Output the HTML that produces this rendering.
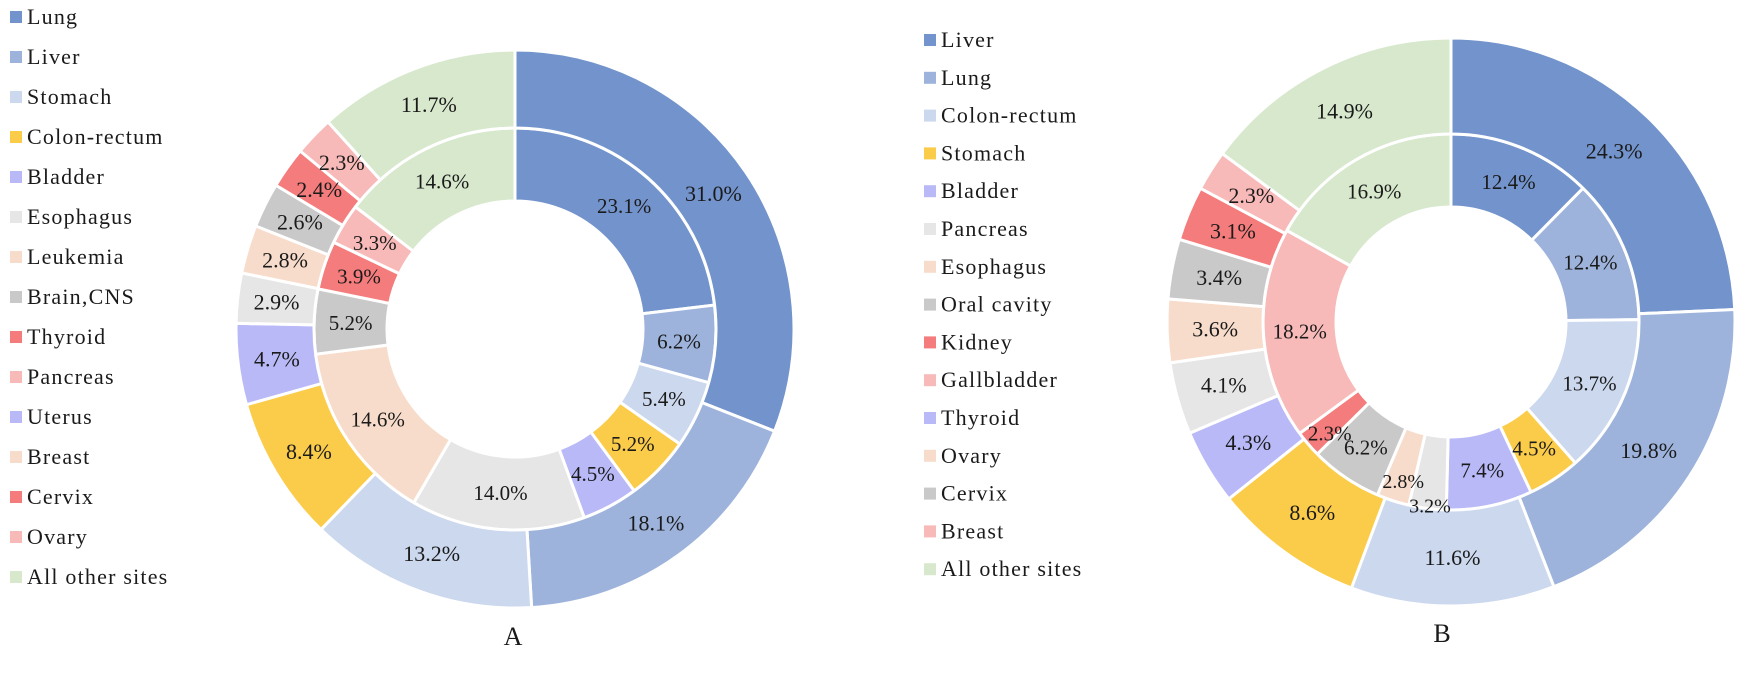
<!DOCTYPE html>
<html><head><meta charset="utf-8"><style>
body{margin:0;background:#fff;width:1737px;height:675px;overflow:hidden}
svg{display:block}
text{font-family:"Liberation Serif",serif;fill:#1a1a1a}
</style></head><body>
<svg id="chart" width="1737" height="675"></svg>
<script>
const namesA=["Lung","Liver","Stomach","Colon-rectum","Bladder","Esophagus","Leukemia","Brain,CNS","Thyroid","Pancreas","Uterus","Breast","Cervix","Ovary","All other sites"];
const legendColorsA=["#7293cb","#9db3dc","#cbd8ee","#fbcb4a","#b9b9f8","#e6e6e6","#f8dccb","#c9c9c9","#f47c7c","#f8b9b9","#b9b9f8","#f8dccb","#f47c7c","#f8b9b9","#d7e8cd"];
const outerA=[31.0,18.1,13.2,8.4,4.7,2.9,2.8,2.6,2.4,2.3,11.7];
const outerColorsA=["#7293cb","#9db3dc","#cbd8ee","#fbcb4a","#b9b9f8","#e6e6e6","#f8dccb","#c9c9c9","#f47c7c","#f8b9b9","#d7e8cd"];
const innerA=[23.1,6.2,5.4,5.2,4.5,14.0,14.6,5.2,3.9,3.3,14.6];
const innerColorsA=["#7293cb","#9db3dc","#cbd8ee","#fbcb4a","#b9b9f8","#e6e6e6","#f8dccb","#c9c9c9","#f47c7c","#f8b9b9","#d7e8cd"];
const namesB=["Liver","Lung","Colon-rectum","Stomach","Bladder","Pancreas","Esophagus","Oral cavity","Kidney","Gallbladder","Thyroid","Ovary","Cervix","Breast","All other sites"];
const legendColorsB=["#7293cb","#9db3dc","#cbd8ee","#fbcb4a","#b9b9f8","#e6e6e6","#f8dccb","#c9c9c9","#f47c7c","#f8b9b9","#b9b9f8","#f8dccb","#c9c9c9","#f8b9b9","#d7e8cd"];
const outerB=[24.3,19.8,11.6,8.6,4.3,4.1,3.6,3.4,3.1,2.3,14.9];
const outerColorsB=["#7293cb","#9db3dc","#cbd8ee","#fbcb4a","#b9b9f8","#e6e6e6","#f8dccb","#c9c9c9","#f47c7c","#f8b9b9","#d7e8cd"];
const innerB=[12.4,12.4,13.7,4.5,7.4,3.2,2.8,6.2,2.3,18.2,16.9];
const innerColorsB=["#7293cb","#9db3dc","#cbd8ee","#fbcb4a","#b9b9f8","#e6e6e6","#f8dccb","#c9c9c9","#f47c7c","#f8b9b9","#d7e8cd"];

const NS="http://www.w3.org/2000/svg";
const svg=document.getElementById('chart');
function mk(t,a,p){const e=document.createElementNS(NS,t);for(const k in a)e.setAttribute(k,a[k]);(p||svg).appendChild(e);return e;}
function pt(cx,cy,r,a){return [cx+r*Math.sin(a),cy-r*Math.cos(a)];}
const pending=[];
function ring(cx,cy,r0,r1,vals,cols,name,fs,nudge){
  const g=mk('g',{});
  
  
  const tot=vals.reduce((s,v)=>s+v,0);let a=0;
  vals.forEach((v,i)=>{
    const a0=a,a1=a+v/tot*2*Math.PI;a=a1;
    const L=(a1-a0)>Math.PI?1:0;
    const p1=pt(cx,cy,r1,a0),p2=pt(cx,cy,r1,a1),p3=pt(cx,cy,r0,a1),p4=pt(cx,cy,r0,a0);
    const d=`M${p1}A${r1},${r1} 0 ${L} 1 ${p2}L${p3}A${r0},${r0} 0 ${L} 0 ${p4}Z`;
    const s=mk('path',{d:d,fill:cols[i],stroke:'#fff','stroke-width':3},g);
    
    
    const m=pt(cx,cy,(r0+r1)/2,(a0+a1)/2);
    const n=(nudge&&nudge[i])||[0,0,fs];
    pending.push({x:m[0]+n[0],y:m[1]+7+n[1],fs:n[2],txt:v.toFixed(1)+'%',name:name+'-label'});
  });
}
function drawLabels(){
  const g=mk('g',{});
  
  
  pending.forEach(p=>{
    const t=mk('text',{x:p.x,y:p.y,'text-anchor':'middle','font-size':p.fs},g);
    t.textContent=p.txt;
    
    
  });
}
function legend(x,y0,dy,names,cols,name){
  const g=mk('g',{});
  
  
  names.forEach((n,i)=>{
    const y=y0+dy*i;
    const it=mk('g',{},g);
    
    
    mk('rect',{x:x,y:y-6,width:12,height:12,fill:cols[i]},it);
    const t=mk('text',{x:x+17,y:y+7,'font-size':22,'letter-spacing':1.2},it);
    t.textContent=n;
  });
}
ring(515,329,128,201,innerA,innerColorsA,'inner-ring-a',21);
ring(515,329,201,279,outerA,outerColorsA,'outer-ring-a',22);
const nudgeInnerB={5:[-2,33,20],6:[-1,15,20],8:[-6,13,21]};
ring(1451,322,115,188,innerB,innerColorsB,'inner-ring-b',21,nudgeInnerB);
ring(1451,322,188,284,outerB,outerColorsB,'outer-ring-b',22);
drawLabels();
legend(10,17,40,namesA,legendColorsA,'legend-a');
legend(924,40,37.8,namesB,legendColorsB,'legend-b');
let t=mk('text',{x:513,y:645,'text-anchor':'middle','font-size':26});t.textContent='A';


t=mk('text',{x:1442,y:642,'text-anchor':'middle','font-size':26});t.textContent='B';


</script>
</body></html>
